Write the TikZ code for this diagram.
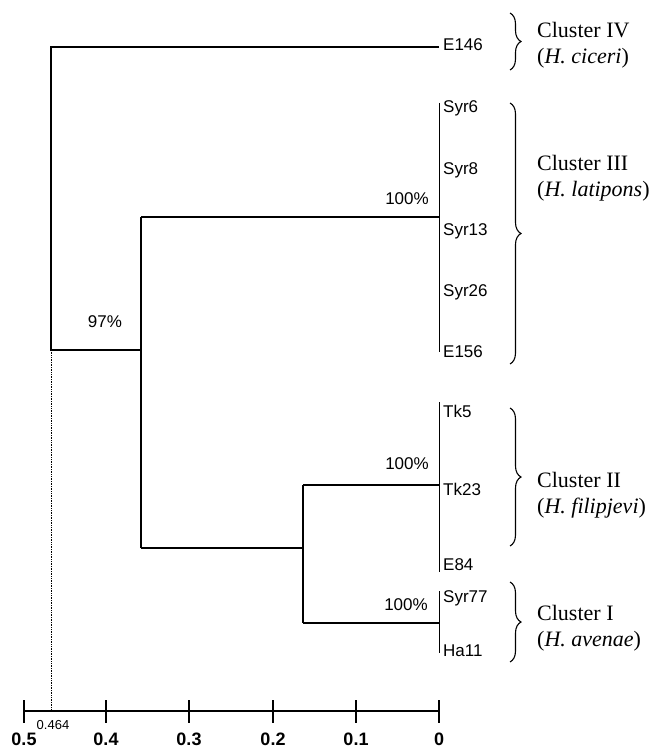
\documentclass[tikz,border=0pt]{standalone}
\usepackage{fontspec}
\setmainfont{Liberation Serif}
\newfontfamily\labfont{Liberation Sans}
\usetikzlibrary{decorations.pathreplacing}
\tikzset{
  branch/.style={line width=1.4pt},
  tipline/.style={line width=0.8pt},
  tiplab/.style={anchor=base west, inner sep=0pt, font=\labfont\fontsize{17}{20}\selectfont},
  bootlab/.style={anchor=center, inner sep=0pt, font=\labfont\fontsize{17}{20}\selectfont},
  axislab/.style={anchor=center, inner sep=0pt, font=\labfont\bfseries\fontsize{18}{20}\selectfont},
  clusterlab/.style={anchor=west, inner sep=0pt, align=left, font=\fontsize{22}{26}\selectfont},
  cbrace/.style={decorate, decoration={brace, amplitude=11pt}, line width=1.1pt},
}
\begin{document}
\begin{tikzpicture}[x=1pt,y=-1pt]
\useasboundingbox (0,0) rectangle (651,749);
% tree coordinates
\coordinate (rtop) at (51,47);
\coordinate (r) at (51,350);
\coordinate (a) at (141,350);
\coordinate (atop) at (141,217);
\coordinate (abot) at (141,548);
\coordinate (b) at (303,548);
\coordinate (btop) at (303,485);
\coordinate (bbot) at (303,623);
\coordinate (e146) at (439,47);
\coordinate (c3) at (439,217);
\coordinate (c2) at (439,485);
\coordinate (c1) at (439,623);
\coordinate (c3t) at (439,103);
\coordinate (c3b) at (439,352);
\coordinate (c2t) at (439,402);
\coordinate (c2b) at (439,572);
\coordinate (c1t) at (439,591);
\coordinate (c1b) at (439,653);
\coordinate (rax) at (51,711);
% branches
\draw[branch] (e146) -- (rtop) -- (r) -- (a);
\draw[branch] (atop) -- (abot);
\draw[branch] (atop) -- (c3);
\draw[branch] (abot) -- (b);
\draw[branch] (btop) -- (bbot);
\draw[branch] (btop) -- (c2);
\draw[branch] (bbot) -- (c1);
\draw[tipline] (c3t) -- (c3b);
\draw[tipline] (c2t) -- (c2b);
\draw[tipline] (c1t) -- (c1b);
\draw[line width=0.7pt, densely dotted] (r) -- (rax);
% tip labels
\node[tiplab] (tE146) at (443,51) {E146};
\node[tiplab] (tSyr6) at (443,113) {Syr6};
\node[tiplab] (tSyr8) at (443,174) {Syr8};
\node[tiplab] (tSyr13) at (443,235) {Syr13};
\node[tiplab] (tSyr26) at (443,296) {Syr26};
\node[tiplab] (tE156) at (443,357) {E156};
\node[tiplab] (tTk5) at (443,417) {Tk5};
\node[tiplab] (tTk23) at (443,495) {Tk23};
\node[tiplab] (tE84) at (443,570) {E84};
\node[tiplab] (tSyr77) at (443,602) {Syr77};
\node[tiplab] (tHa11) at (443,656) {Ha11};
% bootstrap labels
\node[bootlab] (b97) at (105,322) {97\%};
\node[bootlab] (b3) at (407,199) {100\%};
\node[bootlab] (b2) at (407,464) {100\%};
\node[bootlab] (b1) at (406,605) {100\%};
% braces
\draw[cbrace] (510,13) -- (510,70);
\draw[cbrace] (510,103) -- (510,364);
\draw[cbrace] (510,408) -- (510,546);
\draw[cbrace] (510,582) -- (510,662);
\node[clusterlab] (k4) at (537,45) {Cluster IV\\(\textit{H. ciceri})};
\node[clusterlab] (k3) at (537,178) {Cluster III\\(\textit{H. latipons})};
\node[clusterlab] (k2) at (537,495) {Cluster II\\(\textit{H. filipjevi})};
\node[clusterlab] (k1) at (537,628) {Cluster I\\(\textit{H. avenae})};
% axis
\coordinate (ax0) at (24,711);
\coordinate (ax1) at (439,711);
\draw[branch] (ax0) -- (ax1);
\foreach \xx/\lab in {24/0.5, 106/0.4, 189/0.3, 273/0.2, 356/0.1, 439/0} {
  \draw[branch] (\xx,700) -- (\xx,723);
  \node[axislab] at (\xx,739) {\lab};
}
\node[anchor=center, inner sep=0pt, font=\labfont\fontsize{13}{15}\selectfont] (l464) at (53,725) {0.464};
\end{tikzpicture}
\end{document}
